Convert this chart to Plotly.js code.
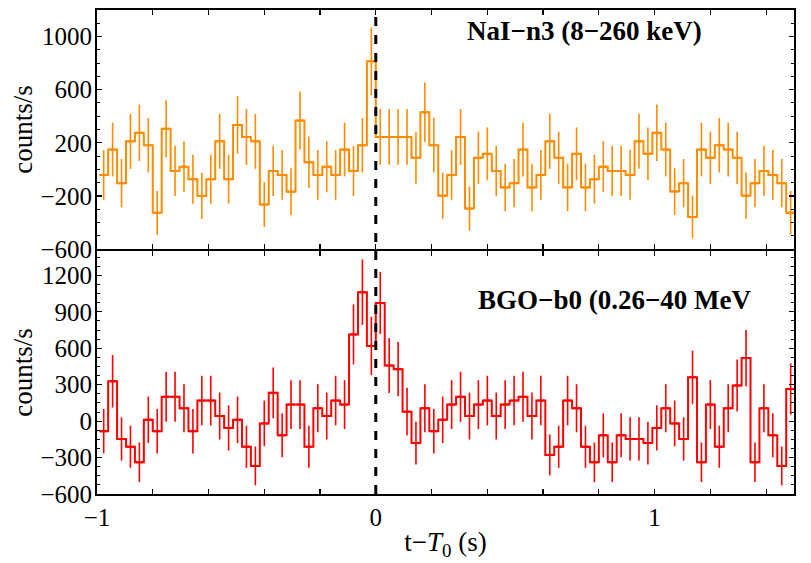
<!DOCTYPE html>
<html>
<head>
<meta charset="utf-8">
<script src="https://cdn.plot.ly/plotly-3.0.1.min.js"></script>
<style>html,body{margin:0;padding:0;background:#fff;}#chart{width:811px;height:563px;}</style>
</head>
<body>
<div id="chart"></div>
<script>
// Binning (seconds)
const binStart = -0.992;
const binWidth = 0.032;

// NaI-n3 (8-260 keV) rates, counts/s
const naiCounts = [-42,149,-104,211,276,182,-327,306,-12,20,-74,-200,-74,211,-74,335,244,211,-265,-12,
  -42,-168,368,53,-42,20,-42,149,-12,182,814,244,244,244,244,87,430,182,-198,-42,
  244,-295,87,117,-12,-136,-104,149,-136,-42,211,87,-136,117,-136,-74,20,-12,-12,-42,
  211,117,276,149,-166,-104,-359,149,87,182,149,87,-198,-104,-12,-42,-104,-327];
const naiErrors = [187,202,182,207,212,205,164,214,189,192,184,174,184,207,184,217,210,207,169,189,
  187,177,219,194,187,192,187,202,189,205,255,210,210,210,210,197,224,205,174,187,
  210,166,197,199,189,179,182,202,179,187,207,197,179,199,179,184,192,189,189,187,
  207,199,212,202,177,182,161,202,197,205,202,197,174,182,189,187,182,164];

// BGO-b0 (0.26-40 MeV) rates, counts/s
const bgoCounts = [-83,328,-147,-211,-339,11,-83,200,200,106,-83,169,169,42,-56,11,-211,-369,-19,233,
  -117,136,136,-211,106,42,169,136,714,1061,619,972,458,428,78,-181,106,-83,11,136,
  200,42,136,169,42,136,169,200,42,169,-278,-211,169,106,-211,-339,-117,-339,-117,-147,
  -147,-181,-56,106,-19,-147,361,-339,136,-211,106,294,519,-339,106,-117,-369,264];
const bgoErrors = [183,216,178,173,163,191,183,206,206,198,183,204,204,193,186,191,173,160,188,209,
  181,201,201,173,198,193,204,201,247,270,240,256,227,224,196,176,198,183,191,201,
  206,193,201,204,193,201,204,206,193,204,168,173,204,198,173,163,181,163,181,178,
  178,176,186,198,188,178,219,163,201,173,198,214,232,163,198,181,160,211];

// X tick labels
const xTickVals = [-1,-0.8,-0.6,-0.4,-0.2,0,0.2,0.4,0.6,0.8,1,1.2,1.4];
const xTickText = ['\u22121','','','','','0','','','','','1','',''];

const nBins = naiCounts.length;
const centers = [], edges = [];
for (let i = 0; i < nBins; i++) centers.push(binStart + (i + 0.5) * binWidth);
for (let i = 0; i <= nBins; i++) edges.push(binStart + i * binWidth);
const stepY = arr => arr.concat([arr[arr.length - 1]]);

const orange = '#FF8C00', red = '#FF0000';
const FONT = '"Liberation Serif", "Times New Roman", serif';
const LW = 2;
const GAP = 1 / 484;

function stepTrace(vals, color, xa, ya) {
  return {x: edges, y: stepY(vals), mode: 'lines', line: {shape: 'hv', color: color, width: 2},
    xaxis: xa, yaxis: ya, hoverinfo: 'skip', showlegend: false};
}
function errTrace(vals, errs, color, xa, ya) {
  return {x: centers, y: vals, mode: 'markers',
    marker: {symbol: 'line-ew-open', size: 5, color: color, line: {color: color, width: 2}},
    error_y: {type: 'data', array: errs, visible: true, color: color, thickness: 1.6, width: 0},
    xaxis: xa, yaxis: ya, showlegend: false};
}

const data = [
  stepTrace(naiCounts, orange, 'x', 'y'),
  errTrace(naiCounts, naiErrors, orange, 'x', 'y'),
  stepTrace(bgoCounts, red, 'x2', 'y2'),
  errTrace(bgoCounts, bgoErrors, red, 'x2', 'y2')
];

const xCommon = {range: [-1, 1.5], tickvals: xTickVals, ticktext: xTickText, ticks: 'inside', ticklen: 5,
  tickwidth: 1.2, tickcolor: '#000', showline: true, linecolor: '#000', linewidth: LW, mirror: 'allticks',
  showgrid: false, zeroline: false, tickfont: {family: FONT, size: 25, color: '#000'}};

const layout = {
  width: 811, height: 563,
  margin: {l: 97, r: 17, t: 10, b: 69},
  paper_bgcolor: '#fff', plot_bgcolor: '#fff',
  font: {family: FONT, color: '#000'},
  showlegend: false,
  xaxis: Object.assign({}, xCommon, {domain: [0, 1], anchor: 'y', showticklabels: false}),
  yaxis: {domain: [0.504 + GAP, 1], anchor: 'x', range: [-600, 1200], tick0: -600, dtick: 400,
    ticks: 'inside', ticklen: 5, tickwidth: 1.2, tickcolor: '#000',
    minor: {dtick: 100, ticks: 'inside', ticklen: 3, tickcolor: '#000', tickwidth: 1},
    showline: true, linecolor: '#000', linewidth: LW, mirror: 'allticks', showgrid: false, zeroline: false,
    tickfont: {family: FONT, size: 25, color: '#000'}, ticklabelstandoff: -2,
    title: {text: 'counts/s', font: {family: FONT, size: 27, color: '#000'}, standoff: 0}},
  xaxis2: Object.assign({}, xCommon, {domain: [0, 1], anchor: 'y2', showticklabels: true, ticklabelstandoff: 0,
    title: {text: 't\u2212<i>T</i><sub>0</sub> (s)', font: {family: FONT, size: 27, color: '#000'}, standoff: 2}}),
  yaxis2: {domain: [0, 0.504 - GAP], anchor: 'x2', range: [-600, 1400], tick0: 0, dtick: 300,
    ticks: 'inside', ticklen: 5, tickwidth: 1.2, tickcolor: '#000',
    minor: {dtick: 75, ticks: 'inside', ticklen: 3, tickcolor: '#000', tickwidth: 1},
    showline: true, linecolor: '#000', linewidth: LW, mirror: 'allticks', showgrid: false, zeroline: false,
    tickfont: {family: FONT, size: 25, color: '#000'}, ticklabelstandoff: -2,
    title: {text: 'counts/s', font: {family: FONT, size: 27, color: '#000'}, standoff: 0}},
  shapes: [{type: 'line', xref: 'x', yref: 'paper', x0: 0, x1: 0, y0: 0, y1: 1,
    line: {color: '#000', width: 3, dash: 'dash'}}],
  annotations: [
    {text: '<b>NaI\u2212n3 (8\u2212260 keV)</b>', xref: 'paper', yref: 'paper', x: 0.70, y: 0.957,
      xanchor: 'center', yanchor: 'middle', showarrow: false, font: {family: FONT, size: 27, color: '#000'}},
    {text: '<b>BGO\u2212b0 (0.26\u221240 MeV</b>', xref: 'paper', yref: 'paper', x: 0.743, y: 0.401,
      xanchor: 'center', yanchor: 'middle', showarrow: false, font: {family: FONT, size: 27, color: '#000'}}
  ]
};

Plotly.newPlot('chart', data, layout, {displayModeBar: false, staticPlot: true});
</script>
</body>
</html>
